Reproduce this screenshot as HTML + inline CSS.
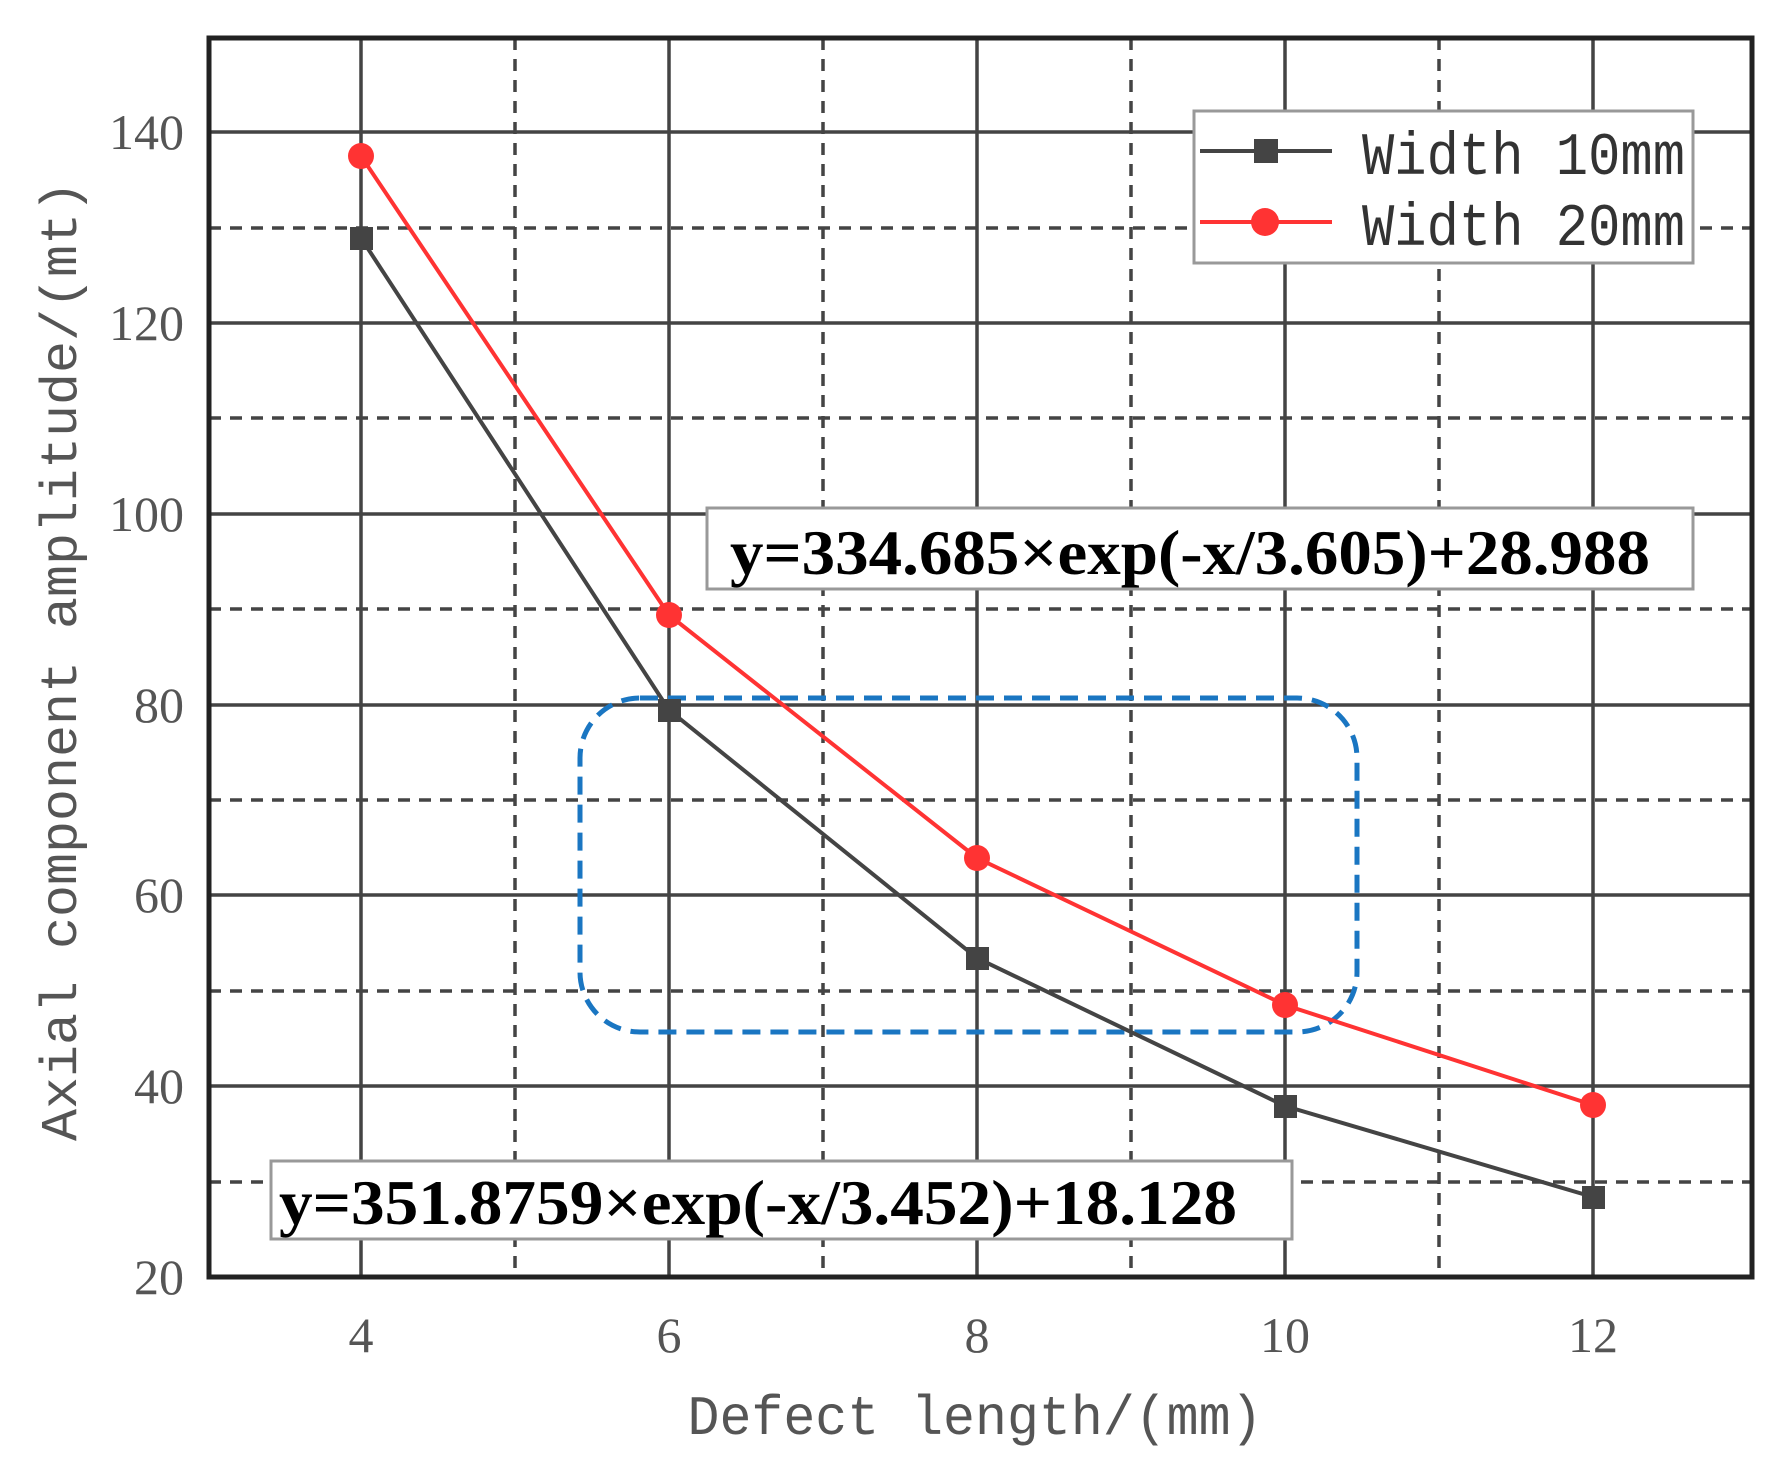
<!DOCTYPE html>
<html><head><meta charset="utf-8"><style>html,body{margin:0;padding:0;background:#fff}</style></head>
<body>
<svg width="1784" height="1463" viewBox="0 0 1784 1463" xmlns="http://www.w3.org/2000/svg">
<rect width="1784" height="1463" fill="#fff"/>
<g stroke="#444" stroke-width="3.5" fill="none">
<path d="M361 38V1277M669 38V1277M977 38V1277M1285 38V1277M1593 38V1277"/>
<path d="M209 1086H1752M209 895H1752M209 705H1752M209 514H1752M209 323H1752M209 132H1752"/>
</g>
<g stroke="#444" stroke-width="3.5" fill="none" stroke-dasharray="12 9">
<path d="M515 38V1277M823 38V1277M1131 38V1277M1439 38V1277"/>
<path d="M209 1182H1752M209 991H1752M209 800H1752M209 609H1752M209 418H1752M209 228H1752"/>
</g>
<rect x="209" y="38" width="1543" height="1239" fill="none" stroke="#222" stroke-width="5"/>
<g font-family="Liberation Serif, serif" font-size="50" fill="#555" text-anchor="end">
<text x="184" y="1294">20</text>
<text x="184" y="1103">40</text>
<text x="184" y="912">60</text>
<text x="184" y="722">80</text>
<text x="184" y="531">100</text>
<text x="184" y="340">120</text>
<text x="184" y="149">140</text>
</g>
<g font-family="Liberation Serif, serif" font-size="50" fill="#555" text-anchor="middle">
<text x="361" y="1352">4</text>
<text x="669" y="1352">6</text>
<text x="977" y="1352">8</text>
<text x="1285" y="1352">10</text>
<text x="1593" y="1352">12</text>
</g>
<text x="975" y="1434" font-family="Liberation Mono, monospace" font-size="56" fill="#555" text-anchor="middle" textLength="575" lengthAdjust="spacingAndGlyphs">Defect length/(mm)</text>
<text transform="translate(76,661) rotate(-90)" font-family="Liberation Mono, monospace" font-size="52" fill="#555" text-anchor="middle" textLength="960" lengthAdjust="spacingAndGlyphs">Axial component amplitude/(mt)</text>
<rect x="580" y="698" width="777" height="334" rx="60" ry="60" fill="none" stroke="#1a76c2" stroke-width="5" stroke-dasharray="18 10"/>
<polyline points="361,156 669,615 977,858 1285,1005 1593,1105" fill="none" stroke="#ff3333" stroke-width="4"/>
<polyline points="361,238 669,710 977,958 1285,1106 1593,1197" fill="none" stroke="#444" stroke-width="4"/>
<g fill="#444">
<rect x="350" y="227" width="23" height="23"/>
<rect x="658" y="699" width="23" height="23"/>
<rect x="966" y="947" width="23" height="23"/>
<rect x="1274" y="1095" width="23" height="23"/>
<rect x="1582" y="1186" width="23" height="23"/>
</g>
<g fill="#ff3333">
<circle cx="361" cy="156" r="13"/>
<circle cx="669" cy="615" r="13"/>
<circle cx="977" cy="858" r="13"/>
<circle cx="1285" cy="1005" r="13"/>
<circle cx="1593" cy="1105" r="13"/>
</g>
<rect x="707" y="508" width="986" height="81" fill="#fff" stroke="#999" stroke-width="3"/>
<text x="730" y="574" font-family="Liberation Serif, serif" font-weight="bold" font-size="64" fill="#000" textLength="920" lengthAdjust="spacingAndGlyphs">y=334.685×exp(-x/3.605)+28.988</text>
<rect x="271" y="1161" width="1021" height="78" fill="#fff" stroke="#999" stroke-width="3"/>
<text x="279" y="1224" font-family="Liberation Serif, serif" font-weight="bold" font-size="64" fill="#000" textLength="958" lengthAdjust="spacingAndGlyphs">y=351.8759×exp(-x/3.452)+18.128</text>
<rect x="1194" y="111" width="499" height="152" fill="#fff" stroke="#999" stroke-width="3"/>
<line x1="1200" y1="151" x2="1332" y2="151" stroke="#444" stroke-width="4"/>
<rect x="1254" y="139" width="24" height="24" fill="#444"/>
<line x1="1200" y1="222" x2="1332" y2="222" stroke="#ff3333" stroke-width="4"/>
<circle cx="1265" cy="222" r="14" fill="#ff3333"/>
<g font-family="Liberation Mono, monospace" font-size="60" fill="#333">
<text x="1362" y="174" textLength="323" lengthAdjust="spacingAndGlyphs">Width 10mm</text>
<text x="1362" y="245" textLength="323" lengthAdjust="spacingAndGlyphs">Width 20mm</text>
</g>
</svg>
</body></html>
